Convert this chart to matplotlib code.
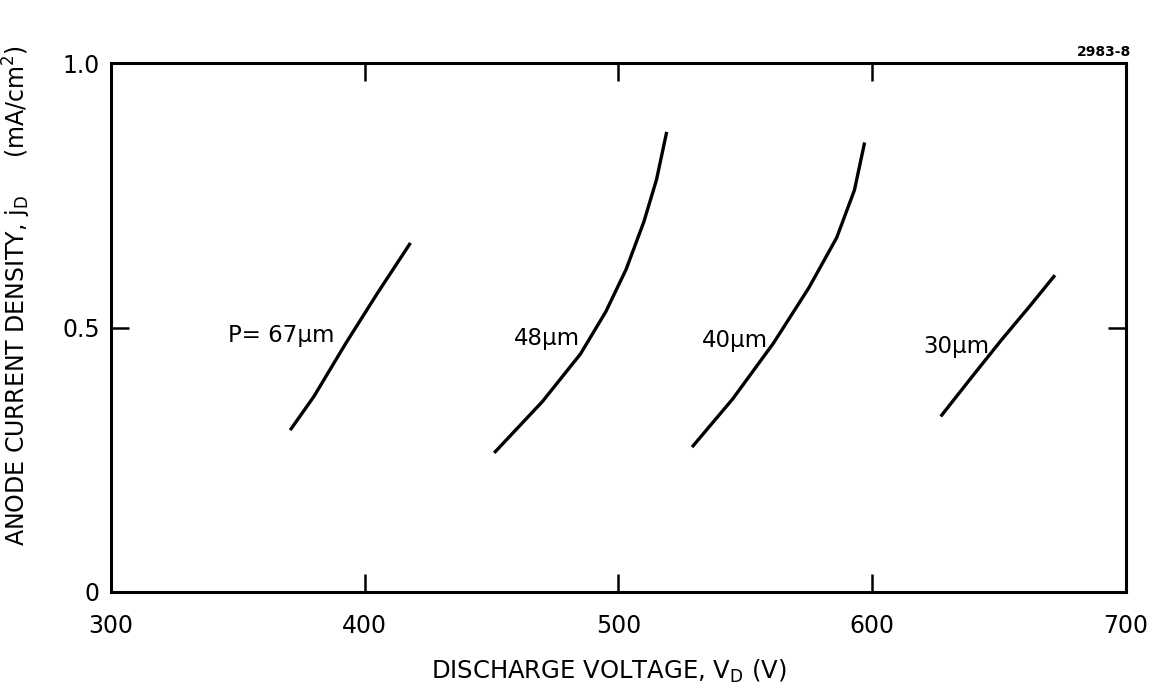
import matplotlib
matplotlib.use("Agg")
import matplotlib.pyplot as plt

# discharge voltage (V) vs anode current density (mA/cm^2), one curve per gap P
v_67 = [370.6, 380, 392.5, 405, 418]
j_67 = [0.306, 0.37, 0.47, 0.565, 0.66]

v_48 = [451, 470, 485, 495, 503, 510, 515, 519]
j_48 = [0.263, 0.36, 0.45, 0.53, 0.61, 0.70, 0.78, 0.87]

v_40 = [529, 545, 561, 575, 586, 593, 597]
j_40 = [0.274, 0.365, 0.47, 0.575, 0.67, 0.76, 0.85]

v_30 = [627, 639, 651, 662, 672]
j_30 = [0.332, 0.405, 0.477, 0.54, 0.599]

labels = ["P= 67μm", "48μm", "40μm", "30μm"]
label_pos = [(388, 0.485), (485, 0.48), (559, 0.475), (646, 0.465)]

plt.rcParams["font.family"] = "DejaVu Sans"

fig = plt.figure(figsize=(11.54, 6.94), dpi=100)
ax = fig.add_axes([0.0962, 0.147, 0.8795, 0.762])

for v, j in [(v_67, j_67), (v_48, j_48), (v_40, j_40), (v_30, j_30)]:
    ax.plot(v, j, color="black", linewidth=2.4, solid_capstyle="butt",
            solid_joinstyle="round")

for text, (x, y) in zip(labels, label_pos):
    ax.text(x, y, text, ha="right", va="center", fontsize=16.5)

ax.set_xlim(300, 700)
ax.set_ylim(0, 1.0)
ax.set_xticks([300, 400, 500, 600, 700])
ax.set_xticklabels(["300", "400", "500", "600", "700"])
ax.set_yticks([0, 0.5, 1.0])
ax.set_yticklabels(["0", "0.5", "1.0"])
ax.tick_params(direction="in", length=13, width=1.8, labelsize=17,
               top=True, right=True, pad=8)
ax.tick_params(axis="x", pad=16)
for s in ax.spines.values():
    s.set_linewidth(2.2)

ax.set_xlabel("DISCHARGE VOLTAGE, $\\mathregular{V_D}$ (V)", fontsize=17.5)
ax.xaxis.set_label_coords(0.49, -0.125)
ax.set_ylabel("ANODE CURRENT DENSITY, $\\mathregular{j_D}$     (mA/cm$\\mathregular{^2}$)",
              fontsize=17)
ax.yaxis.set_label_coords(-0.077, 0.56)

fig.text(0.98, 0.915, "2983-8", ha="right", va="bottom", fontsize=10, fontweight="bold")

fig.savefig("out.png", dpi=100)
